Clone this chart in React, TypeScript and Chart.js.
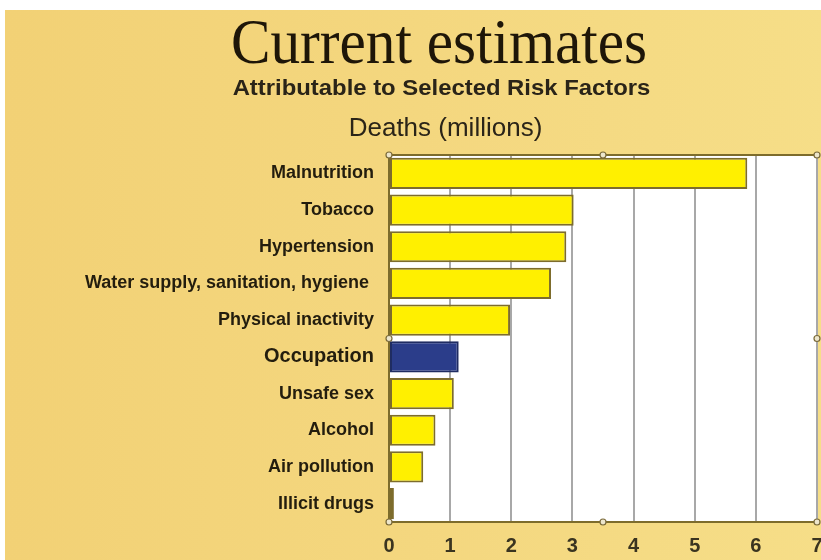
import React, { useEffect, useRef } from "react";
import { Chart, registerables } from "chart.js";

Chart.register(...registerables);

const categories = [
  "Malnutrition",
  "Tobacco",
  "Hypertension",
  "Water supply, sanitation, hygiene ",
  "Physical inactivity",
  "Occupation",
  "Unsafe sex",
  "Alcohol",
  "Air pollution",
  "Illicit drugs",
];
const deaths = [5.86, 3.02, 2.9, 2.65, 1.98, 1.14, 1.06, 0.76, 0.56, 0.08];
const highlighted = "Occupation";
const xMin = 0;
const xMax = 7;
const xStep = 1;

const titleText = "Current estimates";
const subtitleText = "Attributable to Selected Risk Factors";
const axisTitleText = "Deaths (millions)";

const CANVAS_W = 830;
const CANVAS_H = 550;

const decorPlugin = {
  id: "decor",
  beforeDraw(chart: any) {
    const { ctx, width, height, chartArea } = chart;
    ctx.save();
    const g = ctx.createLinearGradient(0, 0, width, 0);
    g.addColorStop(0, "#F2D175");
    g.addColorStop(0.5, "#F4D77F");
    g.addColorStop(1, "#F6DE88");
    ctx.fillStyle = g;
    ctx.fillRect(0, 0, width, height);
    ctx.fillStyle = "#FFFFFF";
    ctx.fillRect(chartArea.left, chartArea.top, chartArea.right - chartArea.left, chartArea.bottom - chartArea.top);
    ctx.restore();
  },
  afterDraw(chart: any) {
    const { ctx, chartArea } = chart;
    const { left, right, top, bottom } = chartArea;
    ctx.save();
    // top frame line
    ctx.strokeStyle = "#7d6c2c";
    ctx.lineWidth = 2;
    ctx.beginPath();
    ctx.moveTo(left, top);
    ctx.lineTo(right, top);
    ctx.stroke();
    // selection handles
    const midX = (left + right) / 2;
    const midY = (top + bottom) / 2;
    const handles = [
      [left, top], [midX, top], [right, top],
      [left, midY], [right, midY],
      [left, bottom], [midX, bottom], [right, bottom],
    ];
    ctx.lineWidth = 1.2;
    for (const [hx, hy] of handles) {
      ctx.beginPath();
      ctx.arc(hx, hy, 3, 0, Math.PI * 2);
      ctx.fillStyle = "#EDE6CC";
      ctx.fill();
      ctx.strokeStyle = "#7a6a3a";
      ctx.stroke();
    }
    // titles
    ctx.fillStyle = "#1e1608";
    ctx.textAlign = "center";
    ctx.textBaseline = "alphabetic";
    ctx.save();
    ctx.translate(434, 53);
    ctx.scale(0.94, 1);
    ctx.font = '63px "Liberation Serif", "Times New Roman", serif';
    ctx.fillText(titleText, 0, 0);
    ctx.restore();

    ctx.fillStyle = "#2a2418";
    ctx.save();
    ctx.translate(436.5, 84.5);
    ctx.scale(1.11, 1);
    ctx.font = 'bold 21.5px "Liberation Sans", Arial, sans-serif';
    ctx.fillText(subtitleText, 0, 0);
    ctx.restore();

    ctx.font = '26px "Liberation Sans", Arial, sans-serif';
    ctx.fillText(axisTitleText, 440.5, 125.7);
    ctx.restore();
  },
};

export default function App() {
  const canvasRef = useRef<HTMLCanvasElement | null>(null);

  useEffect(() => {
    document.body.style.margin = "0";
    document.body.style.overflow = "hidden";
    const canvas = canvasRef.current;
    if (!canvas) return;
    const chart = new Chart(canvas, {
      type: "bar",
      data: {
        labels: categories,
        datasets: [
          {
            data: deaths,
            backgroundColor: categories.map((c) => (c === highlighted ? "#2B3D8A" : "#FFF000")),
            borderColor: categories.map((c) => (c === highlighted ? "#1f2c62" : "#7d6c2c")),
            borderWidth: 2,
            borderSkipped: false,
            barPercentage: 0.85,
            categoryPercentage: 1,
          },
        ],
      },
      options: {
        indexAxis: "y",
        responsive: false,
        animation: false,
        devicePixelRatio: 1,
        layout: { padding: { top: 145, right: 18, bottom: 0, left: 0 } },
        plugins: {
          legend: { display: false },
          tooltip: { enabled: false },
          title: { display: false },
        },
        scales: {
          x: {
            type: "linear",
            min: xMin,
            max: xMax,
            ticks: {
              stepSize: xStep,
              color: "#3a3420",
              padding: 12,
              font: { family: '"Liberation Sans", Arial, sans-serif', size: 20, weight: "bold" },
            },
            grid: { color: "#a8a8a8", lineWidth: 2, drawTicks: false },
            border: { display: true, color: "#7d6c2c", width: 2 },
            afterFit: (s: any) => {
              s.height = 38;
            },
          },
          y: {
            ticks: {
              autoSkip: false,
              color: "#231d0e",
              padding: 7,
              font: (ctx: any) => ({
                family: '"Liberation Sans", Arial, sans-serif',
                size: categories[ctx.index] === highlighted ? 20 : 18,
                weight: "bold",
              }),
            },
            grid: { display: false },
            border: { display: true, color: "#7d6c2c", width: 2 },
            afterFit: (s: any) => {
              s.width = 384;
            },
          },
        },
      },
      plugins: [decorPlugin],
    } as any);
    return () => chart.destroy();
  }, []);

  return (
    <div style={{ width: 816, height: 550, overflow: "hidden", margin: "10px 0 0 5px", position: "relative" }}>
      <canvas ref={canvasRef} width={CANVAS_W} height={CANVAS_H} style={{ display: "block" }} />
    </div>
  );
}
